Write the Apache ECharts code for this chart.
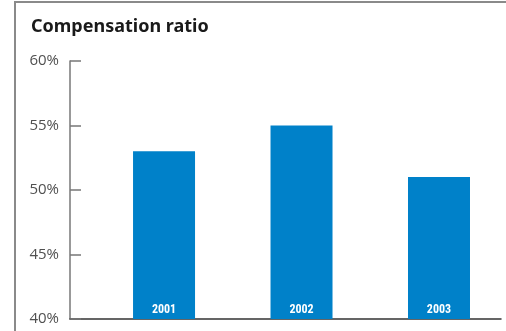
<!DOCTYPE html>
<html>
<head>
<meta charset="utf-8">
<script src="https://cdn.jsdelivr.net/npm/echarts@6/dist/echarts.min.js"></script>
<style>
  html, body { margin: 0; padding: 0; background: #fff; }
  #chart { width: 506px; height: 331px; }
</style>
</head>
<body>
<div id="chart"></div>
<script>
// Compensation ratio by year
const years = [2001, 2002, 2003];
const ratios = [53, 55, 51];
const yTicks = [40, 45, 50, 55, 60];

const chart = echarts.init(document.getElementById('chart'), null, { renderer: 'canvas' });

chart.setOption({
  animation: false,
  backgroundColor: '#ffffff',
  title: {
    text: 'Compensation ratio',
    left: 26,
    top: 13,
    textStyle: {
      fontFamily: 'Noto Sans',
      fontWeight: 'bold',
      fontSize: 18,
      color: '#1a1a1a'
    }
  },
  graphic: [{
    type: 'polyline',
    shape: { points: [[15, 331], [15, 2], [506, 2]] },
    style: { stroke: '#8a8a8a', lineWidth: 2, fill: null },
    silent: true
  }],
  grid: { left: 70, right: 5, top: 61, bottom: 12 },
  xAxis: {
    type: 'value',
    min: 2000.316,
    max: 2003.451,
    axisLine: { show: true, lineStyle: { color: '#333', width: 1.5 } },
    axisTick: { show: false },
    axisLabel: { show: false },
    splitLine: { show: false }
  },
  yAxis: {
    type: 'value',
    min: yTicks[0],
    max: yTicks[yTicks.length - 1],
    interval: 5,
    axisLine: { show: true, lineStyle: { color: '#777', width: 1.5 } },
    axisTick: { show: true, inside: true, length: 11, lineStyle: { color: '#777', width: 1.5 } },
    axisLabel: {
      formatter: v => v + '%',
      margin: 11,
      fontFamily: 'Open Sans',
      fontSize: 15,
      color: '#505050'
    },
    splitLine: { show: false }
  },
  series: [{
    type: 'bar',
    data: years.map((y, i) => [y, ratios[i]]),
    barWidth: 62,
    itemStyle: { color: '#0081C9' },
    label: {
      show: true,
      position: 'insideBottom',
      distance: 3,
      formatter: p => String(p.value[0]),
      fontFamily: 'Roboto Condensed, Liberation Sans Narrow, Roboto',
      fontWeight: 'bold',
      fontSize: 12,
      color: '#ffffff'
    }
  }]
});
</script>
</body>
</html>
